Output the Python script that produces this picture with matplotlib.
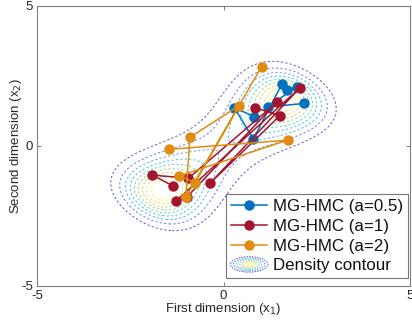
import numpy as np
import matplotlib
matplotlib.use("Agg")
import matplotlib.pyplot as plt
from matplotlib.colors import LinearSegmentedColormap
from matplotlib.legend_handler import HandlerBase
from matplotlib.patches import Ellipse
from matplotlib.lines import Line2D

plt.rcParams['font.family'] = ['Liberation Sans', 'DejaVu Sans']

# ---- data ----
blue_x = [0.82, 0.29, 0.80, 1.56, 1.71, 1.96, 1.20, 2.17]
blue_y = [1.05, 1.37, 0.25, 2.20, 2.00, 2.12, 1.40, 1.52]

red_x = [-1.36, -1.91, -0.94, 1.43, -0.97, -1.27, 2.05, -0.36, 1.51, 0.84]
red_y = [-1.42, -1.04, -1.15, 1.56, -1.81, -1.96, 2.08, -1.33, 1.08, 1.37]

orange_x = [-1.46, 1.72, -1.19, -0.76, 0.42, -0.90, -1.01, 1.02]
orange_y = [-0.12, 0.21, -1.07, -1.31, 1.44, 0.31, -1.83, 2.83]

labels = ['MG-HMC (a=0.5)', 'MG-HMC (a=1)', 'MG-HMC (a=2)', 'Density contour']

# density: double well along diagonal
mode_pos = 2.26      # mode location along (1,1)/sqrt(2)
well_a = 0.05
perp_c = 1.10
levels = np.linspace(0.08, 0.88, 9)

parula_pts = [(0.2422, 0.1504, 0.6603), (0.2810, 0.3228, 0.9579),
              (0.1540, 0.5902, 0.9218), (0.0689, 0.6948, 0.8394),
              (0.2161, 0.7843, 0.5923), (0.5044, 0.7993, 0.3480),
              (0.8000, 0.7500, 0.2000), (0.9892, 0.8136, 0.1885),
              (0.9769, 0.9839, 0.0805)]
parula = LinearSegmentedColormap.from_list('parula', parula_pts)

c_blue = '#0072BD'
c_red = '#A2142F'
c_orange = '#E08C10'
txt_col = '#262626'

fig = plt.figure(figsize=(4.12, 3.21), dpi=100)
ax = fig.add_axes([37/412, 35/321, 373/412, 280/321])

gx = np.linspace(-5, 5, 501)
X, Y = np.meshgrid(gx, gx)
U = (X + Y) / np.sqrt(2)
V = (X - Y) / np.sqrt(2)
F = np.exp(-(well_a * (U**2 - mode_pos**2)**2 + perp_c * V**2))
lev_cols = [parula(i / (len(levels) - 1)) for i in range(len(levels))]
cs = ax.contour(X, Y, F, levels=levels, colors=lev_cols, linewidths=0.75,
                linestyles='--', alpha=0.72)
cs.set_dashes([(0, (2.2, 2.0))])

ms = 6.5
lw = 1.1
ax.plot(blue_x, blue_y, '-o', color=c_blue, mfc=c_blue, mec=c_blue, ms=ms, lw=lw, zorder=3)
ax.plot(red_x, red_y, '-o', color=c_red, mfc=c_red, mec=c_red, ms=ms, lw=lw, zorder=4)
ax.plot(orange_x, orange_y, '-o', color=c_orange, mfc=c_orange, mec=c_orange, ms=ms, lw=lw, zorder=5)

ax.set_xlim(-5, 5)
ax.set_ylim(-5, 5)
ax.set_xticks([-5, 0, 5])
ax.set_yticks([-5, 0, 5])
ax.set_xticklabels(['-5', '0', '5'])
ax.set_yticklabels(['-5', '0', '5'])
ax.tick_params(direction='in', length=3, width=0.6, color='#666666',
               labelsize=9.5, labelcolor=txt_col, top=True, right=True, pad=3)
for s in ax.spines.values():
    s.set_color('#808080')
    s.set_linewidth(0.8)
ax.set_xlabel('First dimension (x$_1$)', fontsize=9.5, labelpad=-1, color=txt_col)
ax.set_ylabel('Second dimension (x$_2$)', fontsize=9.5, labelpad=-2, color=txt_col)


class ContourHandler(HandlerBase):
    def create_artists(self, legend, orig_handle, xdescent, ydescent,
                       width, height, fontsize, trans):
        arts = []
        cx = width / 2 - xdescent
        cy = height / 2 - ydescent
        n = 6
        for i in range(n):
            f = 1 - i / n
            e = Ellipse((cx, cy), width * 1.05 * f, height * 1.3 * f,
                        fill=False, lw=0.7, ls=(0, (1.5, 1.2)), alpha=0.8,
                        edgecolor=parula(i / (n - 1)), transform=trans)
            arts.append(e)
        return arts


class Dummy:
    pass


h1 = Line2D([], [], color=c_blue, marker='o', ms=ms, lw=lw)
h2 = Line2D([], [], color=c_red, marker='o', ms=ms, lw=lw)
h3 = Line2D([], [], color=c_orange, marker='o', ms=ms, lw=lw)
h4 = Dummy()
leg = ax.legend([h1, h2, h3, h4], labels, loc='lower right',
                bbox_to_anchor=(0.995, 0.027), fontsize=12.2,
                handler_map={Dummy: ContourHandler()},
                frameon=True, fancybox=False, handlelength=2.1,
                handletextpad=0.35, borderpad=0.3, labelspacing=0.28,
                borderaxespad=0)
leg.get_frame().set_edgecolor('#555555')
leg.get_frame().set_linewidth(0.8)
for t in leg.get_texts():
    t.set_color('#111111')

fig.savefig('out.png', dpi=100)
